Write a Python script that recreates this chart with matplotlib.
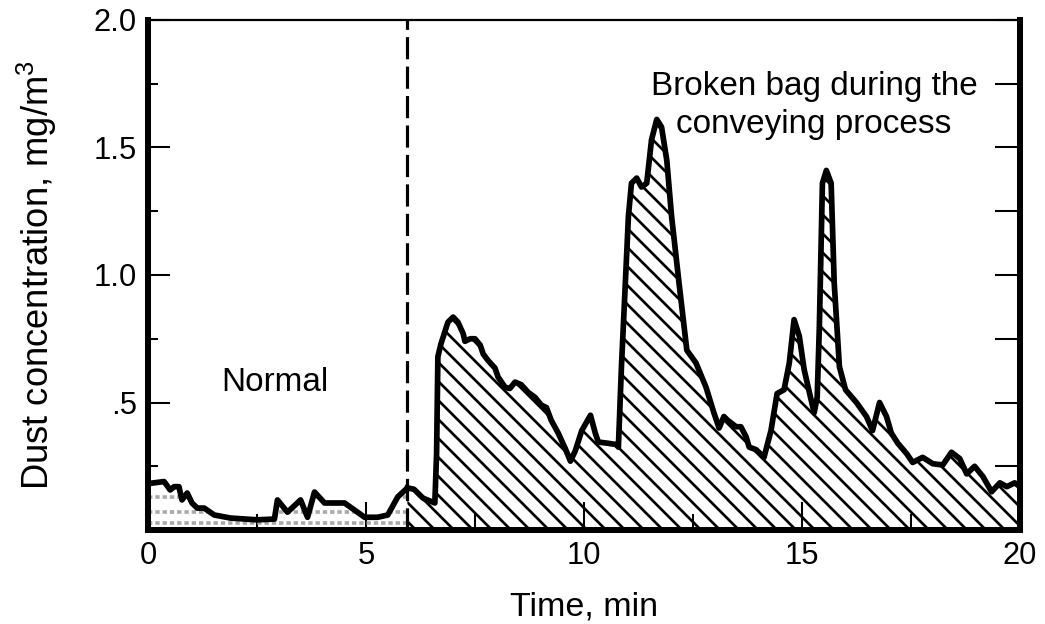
import matplotlib.pyplot as plt
import numpy as np
from matplotlib.ticker import MultipleLocator, FixedFormatter, FixedLocator, NullFormatter

plt.rcParams['font.family'] = ['Liberation Sans', 'DejaVu Sans']
plt.rcParams['mathtext.fontset'] = 'custom'
plt.rcParams['mathtext.rm'] = 'Liberation Sans'
plt.rcParams['mathtext.default'] = 'regular'
plt.rcParams['hatch.linewidth'] = 1.7

# normal period (min, mg/m3)
t_normal = [0.0, 0.09, 0.37, 0.51, 0.6, 0.71, 0.78, 0.9, 1.01, 1.13, 1.29, 1.52, 1.89, 2.5,
            2.9, 2.97, 3.2, 3.5, 3.66, 3.82, 4.05, 4.51, 4.97, 5.27, 5.5, 5.73, 5.95]
c_normal = [0.18, 0.184, 0.19, 0.157, 0.17, 0.17, 0.118, 0.145, 0.106, 0.086, 0.086, 0.059, 0.047, 0.04,
            0.043, 0.118, 0.07, 0.118, 0.05, 0.149, 0.106, 0.106, 0.05, 0.05, 0.059, 0.13, 0.165]

# broken bag period
t_broken = [5.95, 6.1, 6.31, 6.58, 6.62, 6.65, 6.72, 6.88, 7.0, 7.11, 7.23, 7.27, 7.39, 7.5, 7.62,
            7.69, 7.8, 7.96, 8.03, 8.19, 8.3, 8.42, 8.56, 8.72, 8.88, 9.02, 9.14, 9.25, 9.41,
            9.57, 9.69, 9.8, 9.95, 10.15, 10.26, 10.33, 10.56, 10.75, 10.79, 10.86, 10.95,
            11.02, 11.09, 11.21, 11.32, 11.44, 11.55, 11.67, 11.78, 11.9, 12.01, 12.18, 12.36,
            12.57, 12.8, 12.98, 13.1, 13.21, 13.3, 13.49, 13.6, 13.72, 13.79, 13.95, 14.13,
            14.29, 14.43, 14.59, 14.71, 14.82, 14.94, 15.05, 15.17, 15.28, 15.35, 15.4, 15.47,
            15.56, 15.67, 15.74, 15.86, 16.0, 16.25, 16.48, 16.62, 16.78, 16.94, 17.05, 17.2,
            17.4, 17.54, 17.77, 18.0, 18.23, 18.43, 18.62, 18.78, 18.96, 19.15, 19.35, 19.54,
            19.7, 19.88, 20.0]
c_broken = [0.165, 0.16, 0.125, 0.106, 0.3, 0.68, 0.73, 0.815, 0.835, 0.815, 0.77, 0.74, 0.75, 0.75, 0.725,
            0.69, 0.665, 0.635, 0.6, 0.56, 0.555, 0.58, 0.57, 0.54, 0.52, 0.49, 0.48, 0.43, 0.38,
            0.32, 0.27, 0.31, 0.39, 0.45, 0.38, 0.345, 0.34, 0.335, 0.325, 0.64, 0.97,
            1.23, 1.36, 1.38, 1.345, 1.36, 1.53, 1.61, 1.58, 1.45, 1.23, 0.97, 0.705,
            0.655, 0.56, 0.46, 0.4, 0.445, 0.43, 0.405, 0.405, 0.365, 0.325, 0.315, 0.285,
            0.39, 0.535, 0.55, 0.655, 0.825, 0.76, 0.63, 0.54, 0.46, 0.52, 0.8, 1.36,
            1.41, 1.36, 0.97, 0.64, 0.55, 0.5, 0.445, 0.39, 0.5, 0.445, 0.38, 0.34,
            0.3, 0.265, 0.285, 0.26, 0.255, 0.305, 0.28, 0.22, 0.25, 0.21, 0.15, 0.185,
            0.17, 0.185, 0.17]

split_t = 5.95
dot_rows = [0.027, 0.07, 0.13]

fig = plt.figure(figsize=(1045 / 114, 624 / 114), dpi=114)
ax = fig.add_axes([0.1416, 0.1506, 0.8344, 0.8174])

# gray dotted rows under the normal curve
poly = ax.fill_between(t_normal, 0, c_normal, facecolor='none', edgecolor='none')
for yr in dot_rows:
    ln, = ax.plot([0, split_t], [yr, yr], color='#aaaaaa', lw=2.3, ls=(0, (1.2, 0.8)))
    ln.set_clip_path(poly.get_paths()[0], ax.transData)

# hatched area for broken bag
ax.fill_between(t_broken, 0, c_broken, facecolor='white', edgecolor='black',
                hatch='\\\\', linewidth=0)

ax.plot(t_normal, c_normal, color='black', lw=3.6, solid_joinstyle='round')
ax.plot(t_broken, c_broken, color='black', lw=3.6, solid_joinstyle='round')

ax.axvline(split_t, color='black', lw=2.0, ls=(0, (7, 2.3)))

ax.text(2.92, 0.58, 'Normal', ha='center', va='center', fontsize=21)
ax.text(15.28, 1.665, 'Broken bag during the\nconveying process', ha='center', va='center',
        fontsize=21, linespacing=1.3)

ax.set_xlim(0, 20)
ax.set_ylim(0, 2.0)
ax.xaxis.set_major_locator(MultipleLocator(5))
ax.xaxis.set_minor_locator(MultipleLocator(2.5))
ax.yaxis.set_major_locator(FixedLocator([0.5, 1.0, 1.5, 2.0]))
ax.yaxis.set_major_formatter(FixedFormatter(['.5', '1.0', '1.5', '2.0']))
ax.yaxis.set_minor_locator(MultipleLocator(0.25))

ax.tick_params(which='both', direction='in', width=1.3, labelsize=19.5, pad=7)
ax.tick_params(axis='x', which='major', length=17.5)
ax.tick_params(axis='x', which='minor', length=10)
ax.tick_params(axis='y', which='major', length=14)
ax.tick_params(axis='y', which='minor', length=6.3)

# right side ticks, all the same length
rax = ax.secondary_yaxis('right')
rax.yaxis.set_major_locator(MultipleLocator(0.25))
rax.yaxis.set_major_formatter(NullFormatter())
rax.tick_params(direction='in', length=15.8, width=1.3)
rax.spines['right'].set_linewidth(3.8)

for s in ax.spines.values():
    s.set_linewidth(3.8)
ax.spines['top'].set_linewidth(1.4)

ax.set_xlabel('Time, min', fontsize=21.5, labelpad=13)
ax.set_ylabel('Dust concentration, mg/m$^{3}$', fontsize=23, labelpad=22)

fig.savefig('out.png', dpi=114)
